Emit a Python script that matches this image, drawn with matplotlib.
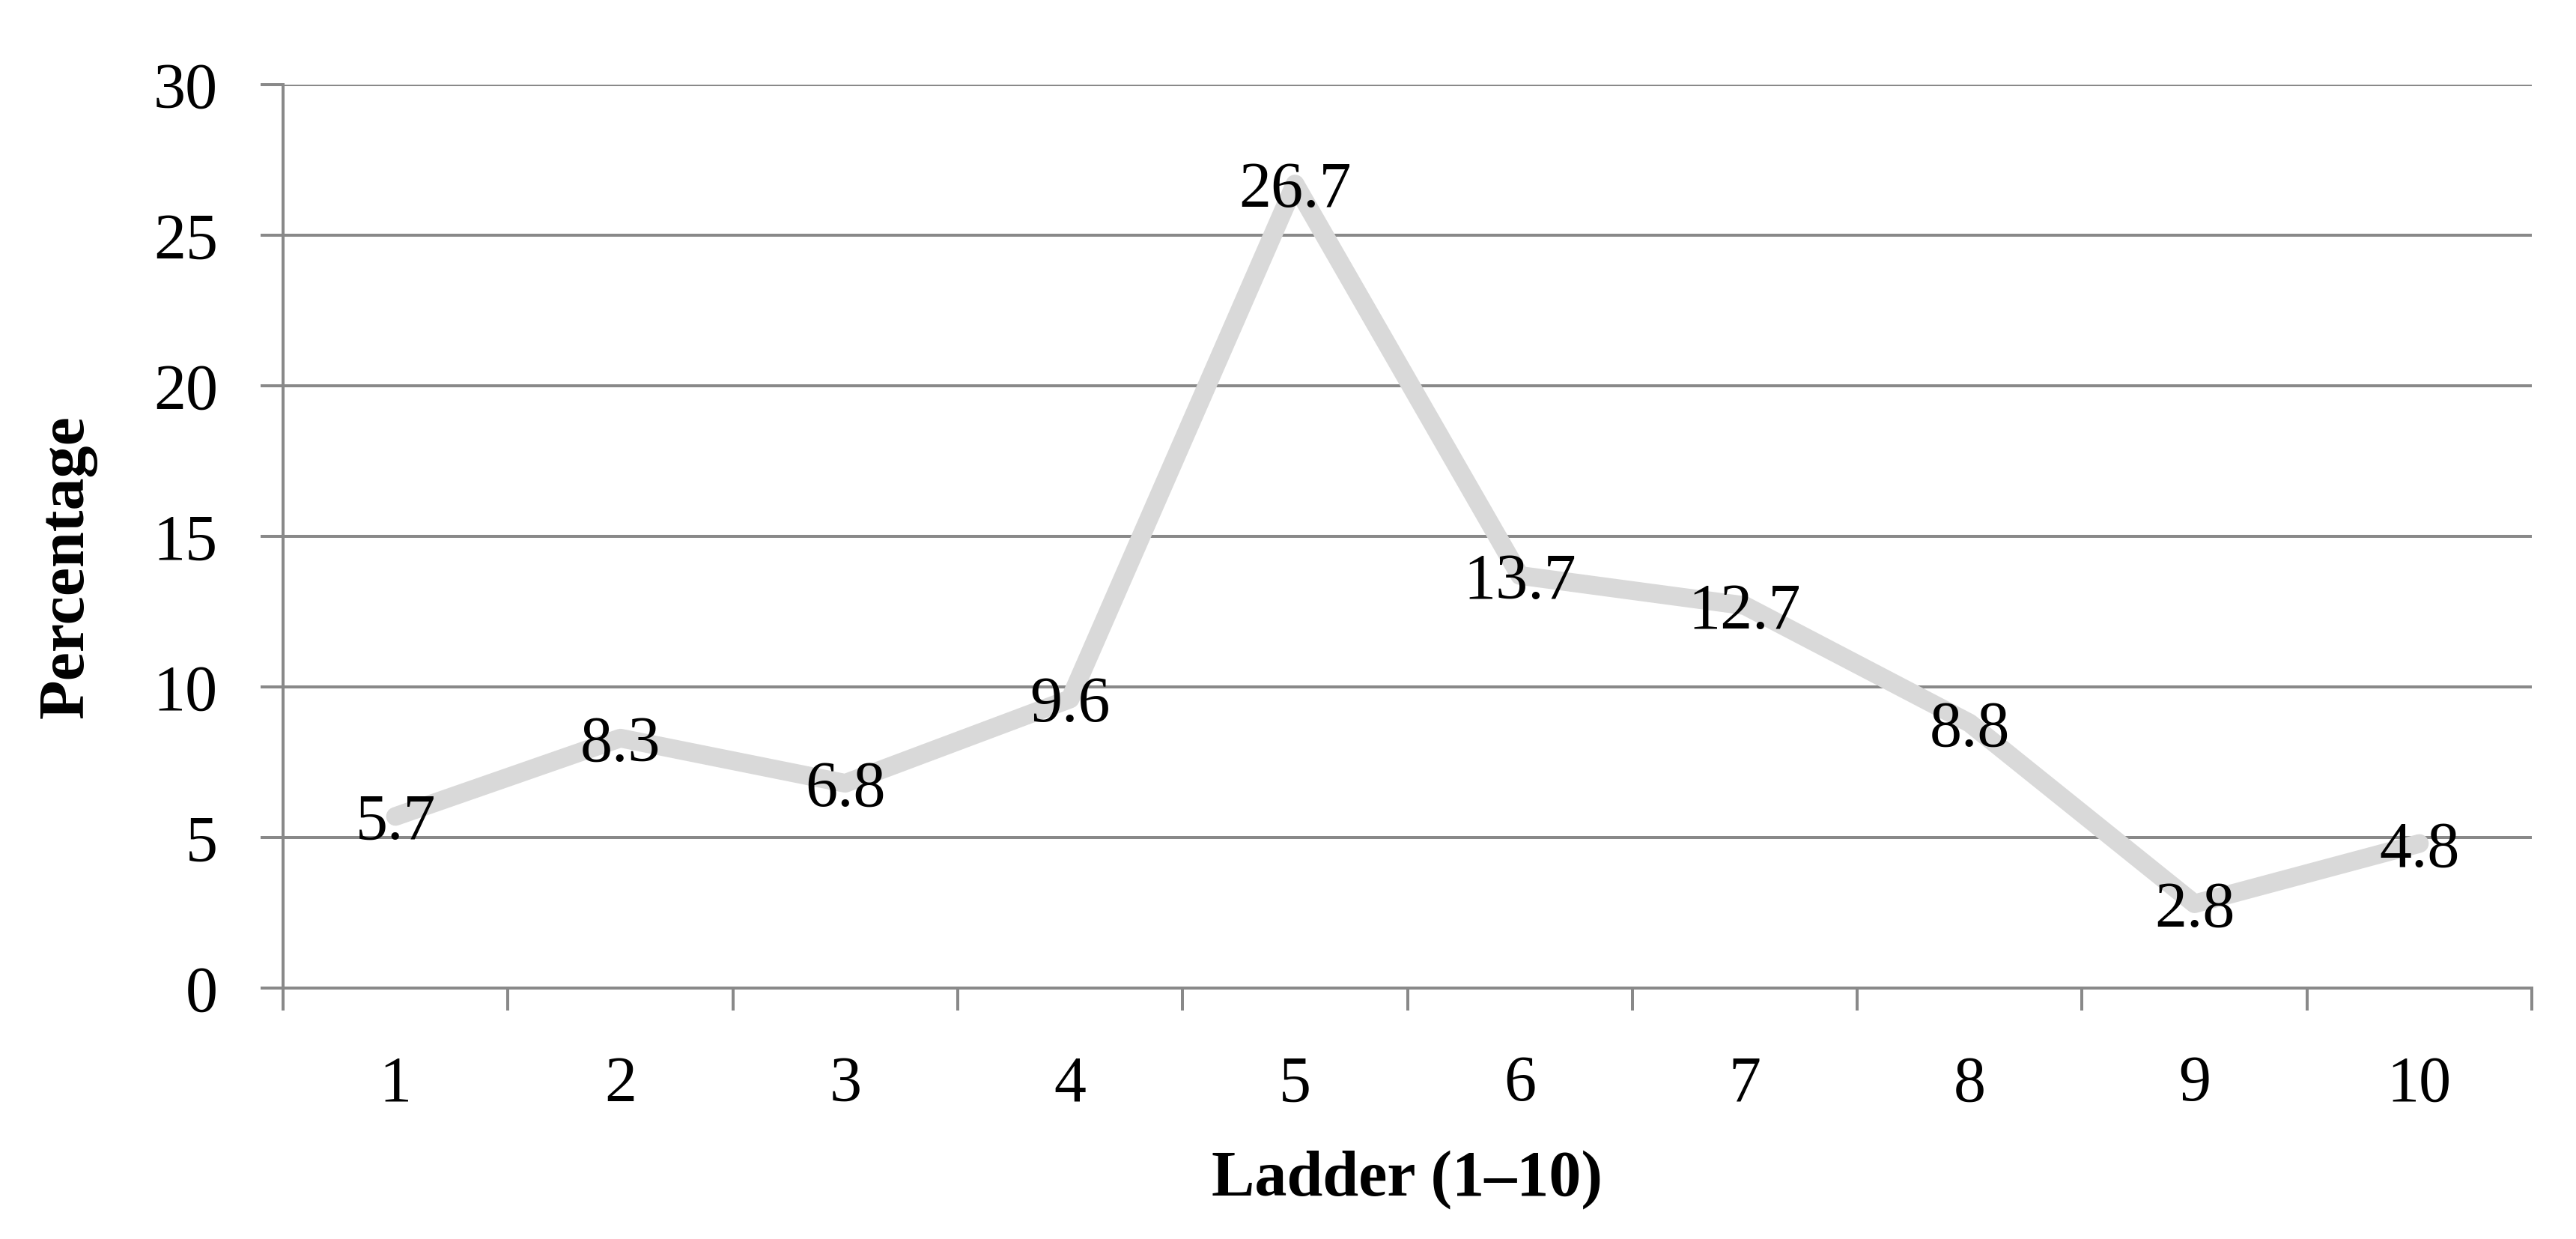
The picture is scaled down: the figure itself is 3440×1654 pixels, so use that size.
import matplotlib
matplotlib.use("Agg")
import matplotlib.pyplot as plt
import numpy as np

categories = ["1", "2", "3", "4", "5", "6", "7", "8", "9", "10"]
values = [5.7, 8.3, 6.8, 9.6, 26.7, 13.7, 12.7, 8.8, 2.8, 4.8]
y_ticks = [0, 5, 10, 15, 20, 25, 30]

DPI = 200
px = 72.0 / DPI  # points per pixel

plt.rcParams['font.family'] = ['Liberation Serif', 'DejaVu Serif']

fig = plt.figure(figsize=(3440 / DPI, 1654 / DPI), dpi=DPI)
ax = fig.add_axes([378 / 3440, 1 - 1319 / 1654, (3381 - 378) / 3440, (1319 - 113) / 1654])

grid_c = '#898989'
x = np.arange(1, len(categories) + 1)

ax.set_ylim(0, 30)
ax.set_xlim(0.5, len(categories) + 0.5)

for yt in y_ticks[1:]:
    ax.axhline(yt, color=grid_c, lw=4 * px, zorder=1)

ax.plot(x, values, color='#D9D9D9', lw=25 * px, solid_capstyle='round',
        solid_joinstyle='round', zorder=2)

fs = 31
for xi, v in zip(x, values):
    ax.text(xi, v, f"{v:.1f}", ha='center', va='center_baseline', fontsize=fs,
            color='black', zorder=3)

for s in ['top', 'right']:
    ax.spines[s].set_visible(False)
for s in ['left', 'bottom']:
    ax.spines[s].set_color(grid_c)
    ax.spines[s].set_linewidth(4 * px)

ax.set_yticks(y_ticks)
ax.set_yticklabels([str(t) for t in y_ticks], fontsize=fs)
ax.tick_params(axis='y', direction='out', length=30 * px, width=4 * px,
               color=grid_c, pad=57 * px)

ax.set_xticks(x)
ax.set_xticklabels(categories, fontsize=fs)
ax.set_xticks(np.arange(0.5, len(categories) + 1.0, 1.0), minor=True)
ax.tick_params(axis='x', which='major', length=0, pad=90 * px)
ax.tick_params(axis='x', which='minor', direction='out', length=30 * px,
               width=4 * px, color=grid_c)

fig.text(1879 / 3440, 1 - 1575 / 1654, "Ladder (1–10)", ha='center', va='center',
         fontsize=fs, fontweight='bold')
fig.text(90 / 3440, 1 - 757 / 1654, "Percentage", ha='center', va='center',
         rotation=90, fontsize=fs, fontweight='bold')

fig.savefig("out.png", dpi=DPI, facecolor='white')
